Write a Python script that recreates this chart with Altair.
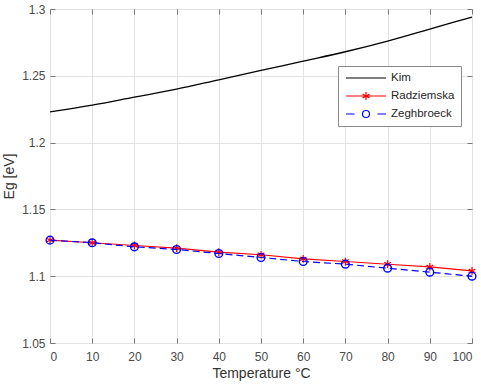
import altair as alt
import pandas as pd

# Band-gap energy of silicon vs. temperature for three models
temps = [0, 10, 20, 30, 40, 50, 60, 70, 80, 90, 100]
kim = [1.223, 1.228, 1.234, 1.240, 1.247, 1.254, 1.261, 1.268, 1.276, 1.285, 1.294]
radziemska = [1.127, 1.125, 1.123, 1.121, 1.118, 1.116, 1.113, 1.111, 1.109, 1.107, 1.104]
zeghbroeck = [1.127, 1.125, 1.122, 1.120, 1.117, 1.114, 1.111, 1.109, 1.106, 1.103, 1.100]

series_names = ["Kim", "Radziemska", "Zeghbroeck"]
series_colors = ["#000000", "#ff0000", "#0000ff"]
x_ticks = [0, 10, 20, 30, 40, 50, 60, 70, 80, 90, 100]
y_ticks = [1.05, 1.1, 1.15, 1.2, 1.25, 1.3]

df = pd.DataFrame({
    "T": temps * 3,
    "Eg": kim + radziemska + zeghbroeck,
    "series": [s for s in series_names for _ in temps],
})

FONT = "Liberation Sans"
LABEL_COLOR = "#4a4a4a"
GRID = "#e3e3e3"

x_scale = alt.Scale(domain=[0, 100], nice=False)
y_scale = alt.Scale(domain=[1.05, 1.3], nice=False, zero=False)

x_main = alt.Axis(values=x_ticks, title="Temperature °C", grid=True, gridColor=GRID,
                  domain=False, ticks=False, labelPadding=8, labelFontSize=12,
                  labelColor=LABEL_COLOR, labelFont=FONT, titleFont=FONT, titleFontSize=14,
                  titleFontWeight="normal", titleColor="#333333", titlePadding=4)
y_main = alt.Axis(values=y_ticks, format=".2~f", title="Eg [eV]", grid=True, gridColor=GRID,
                  domain=False, ticks=False, labelPadding=5, labelFontSize=12,
                  labelColor=LABEL_COLOR, labelFont=FONT, titleFont=FONT, titleFontSize=14,
                  titleFontWeight="normal", titleColor="#333333", titlePadding=5)


def tick_axis(orient, values):
    # inward-pointing tick marks only
    return alt.Axis(orient=orient, values=values, labels=False, title=None, grid=False,
                    domain=False, ticks=True, tickSize=5, tickColor="#777777", offset=-5)


base = alt.Chart(df)

kim_line = base.transform_filter(alt.datum.series == "Kim").mark_line(
    color="#000000", strokeWidth=1.3, interpolate="monotone"
).encode(
    x=alt.X("T:Q", scale=x_scale, axis=x_main),
    y=alt.Y("Eg:Q", scale=y_scale, axis=y_main),
)

radz_line = base.transform_filter(alt.datum.series == "Radziemska").mark_line(
    color="#ff0000", strokeWidth=1.1
).encode(
    x=alt.X("T:Q", scale=x_scale, axis=tick_axis("bottom", x_ticks)),
    y=alt.Y("Eg:Q", scale=y_scale, axis=tick_axis("left", y_ticks)),
)

STAR = "M0,-1V1M-0.87,-0.5L0.87,0.5M-0.87,0.5L0.87,-0.5"
radz_pts = base.transform_filter(alt.datum.series == "Radziemska").mark_point(
    shape=STAR, color="#ff0000", filled=False, size=60, strokeWidth=1.2, opacity=1
).encode(
    x=alt.X("T:Q", scale=x_scale, axis=tick_axis("top", x_ticks)),
    y=alt.Y("Eg:Q", scale=y_scale, axis=tick_axis("right", y_ticks)),
)

zeg_line = base.transform_filter(alt.datum.series == "Zeghbroeck").mark_line(
    color="#0000ff", strokeWidth=1.2, strokeDash=[7, 4]
).encode(
    x=alt.X("T:Q", scale=x_scale, axis=None),
    y=alt.Y("Eg:Q", scale=y_scale, axis=None),
)

zeg_pts = base.transform_filter(alt.datum.series == "Zeghbroeck").mark_point(
    shape="circle", color="#0000ff", filled=False, size=60, strokeWidth=1.4, opacity=1
).encode(
    x=alt.X("T:Q", scale=x_scale, axis=None),
    y=alt.Y("Eg:Q", scale=y_scale, axis=None),
)

# Legend glyphs: line sample combined with each series' marker
# (drawn wider than the nominal symbol box so rows stay compact)
legend_shapes = [
    "M-4,0H4",
    "M-4,0H4M0,-0.8V0.8M-0.7,-0.4L0.7,0.4M-0.7,0.4L0.7,-0.4",
    "M-4,0H-2.3M2.3,0H4M0.7,0A0.7,0.7,0,1,1,-0.7,0A0.7,0.7,0,1,1,0.7,0",
]

legend_layer = base.transform_filter("false").mark_point(filled=False, opacity=1).encode(
    x=alt.X("T:Q", scale=x_scale, axis=None),
    y=alt.Y("Eg:Q", scale=y_scale, axis=None),
    color=alt.Color("series:N", scale=alt.Scale(domain=series_names, range=series_colors),
                    legend=alt.Legend(title=None, orient="none", legendX=288, legendY=57,
                                      fillColor="#ffffff", strokeColor="#8a8a8a",
                                      padding=6, symbolSize=100, symbolStrokeWidth=1.2,
                                      symbolOffset=16,
                                      labelFont=FONT, labelFontSize=11.5, labelColor="#262626",
                                      labelOffset=19, rowPadding=5)),
    shape=alt.Shape("series:N", scale=alt.Scale(domain=series_names, range=legend_shapes)),
)

chart = alt.layer(
    kim_line, radz_line, radz_pts, zeg_line, zeg_pts, legend_layer
).resolve_axis(
    x="independent", y="independent"
).properties(
    width=422, height=334,
    autosize=alt.AutoSizeParams(type="none"),
    padding={"left": 50, "top": 9, "right": 9, "bottom": 43},
).configure_view(
    stroke="#777777", strokeWidth=1
).configure(
    background="#ffffff"
)

chart.save("out.html", embed_options={"renderer": "svg", "actions": False})
